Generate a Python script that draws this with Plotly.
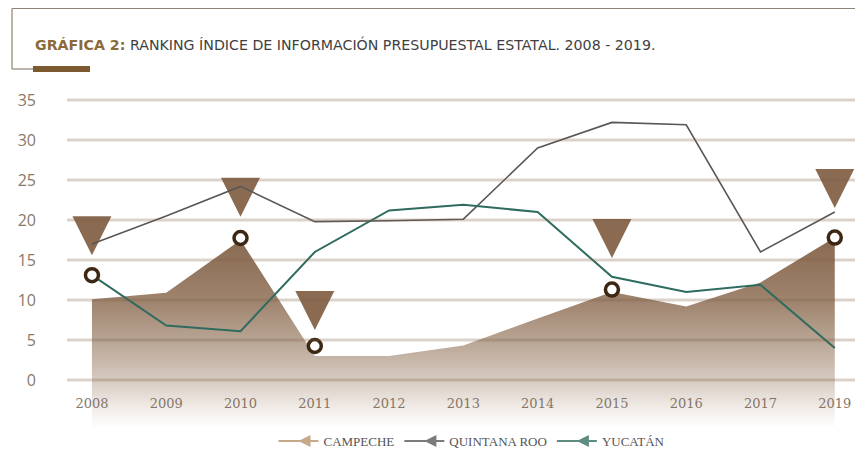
import plotly.graph_objects as go

# ---------------- data ----------------
YEARS = ["2008", "2009", "2010", "2011", "2012", "2013", "2014", "2015", "2016", "2017", "2019"]
CAMPECHE = [10.1, 10.9, 17.5, 3.0, 3.0, 4.3, 7.7, 11.0, 9.2, 12.2, 17.8]
QUINTANA_ROO = [17.0, 20.5, 24.2, 19.8, 19.9, 20.1, 29.0, 32.2, 31.9, 16.0, 21.0]
YUCATAN = [13.1, 6.8, 6.1, 16.0, 21.2, 21.9, 21.0, 12.9, 11.0, 11.9, 4.0]

CIRCLE_YEARS = ["2008", "2010", "2011", "2015", "2019"]
CIRCLE_VALUES = [13.1, 17.75, 4.25, 11.3, 17.8]
ARROW_YEARS = ["2008", "2010", "2011", "2015", "2019"]
ARROW_VALUES = [15.6, 20.4, 6.25, 15.25, 21.5]

Y_TICKS = [0, 5, 10, 15, 20, 25, 30, 35]
SERIES_NAMES = ["CAMPECHE", "QUINTANA ROO", "YUCATÁN"]

TITLE_BOLD = "GRÁFICA 2:"
TITLE_REST = " RANKING ÍNDICE DE INFORMACIÓN PRESUPUESTAL ESTATAL. 2008 - 2019."

# ---------------- styling ----------------
PAGE_OFF = 8                    # default page body margin
W, H = 863 - PAGE_OFF, 458 - PAGE_OFF
ML, MR, MT, MB = 67 - PAGE_OFF, 0, 92 - PAGE_OFF, 30
Y_MIN, Y_MAX = -6, 36          # bottom of the fade below the axis, top of plot
X_MIN, X_MAX = -0.336, 10.38

idx = {y: i for i, y in enumerate(YEARS)}
xs = list(range(len(YEARS)))

plot_w = W - ML - MR
plot_h = H - MT - MB


def px_x(p):  # page pixel -> paper x
    return (p - PAGE_OFF - ML) / plot_w


def px_y(q):  # page pixel -> paper y
    return (H - MB - (q - PAGE_OFF)) / plot_h


fig = go.Figure()

# Campeche area with vertical gradient fading below the axis
area_x = xs + xs[::-1]
area_y = CAMPECHE + [Y_MIN] * len(xs)
top = max(CAMPECHE)


def pos(v):
    return (v - Y_MIN) / (top - Y_MIN)


fig.add_trace(go.Scatter(
    x=area_x, y=area_y, fill="toself", mode="lines",
    line=dict(width=0, color="rgba(0,0,0,0)"),
    fillgradient=dict(
        type="vertical", start=Y_MIN, stop=top,
        colorscale=[
            [0.0, "rgba(255,255,255,1)"],
            [pos(-3), "rgb(238,232,227)"],
            [pos(0), "rgb(214,202,192)"],
            [pos(5), "rgb(184,164,147)"],
            [pos(10), "rgb(158,131,109)"],
            [1.0, "rgb(137,105,80)"],
        ],
    ),
    showlegend=False, hoverinfo="skip",
))

# arrow markers (below the lines)
fig.add_trace(go.Scatter(
    x=[idx[y] for y in ARROW_YEARS], y=ARROW_VALUES, mode="markers",
    marker=dict(symbol="arrow-down", size=39, color="#8a6b52", line=dict(width=0)),
    showlegend=False, hoverinfo="skip",
))

# Quintana Roo line
fig.add_trace(go.Scatter(
    x=xs, y=QUINTANA_ROO, mode="lines",
    line=dict(color="#5a5754", width=1.6),
    showlegend=False,
))

# Yucatán line
fig.add_trace(go.Scatter(
    x=xs, y=YUCATAN, mode="lines",
    line=dict(color="#2f6b5f", width=2),
    showlegend=False,
))

# circle markers
fig.add_trace(go.Scatter(
    x=[idx[y] for y in CIRCLE_YEARS], y=CIRCLE_VALUES, mode="markers",
    marker=dict(symbol="circle", size=13, color="white",
                line=dict(width=3.5, color="#3b2713")),
    showlegend=False, hoverinfo="skip",
))

# legend proxies
legend_colors = ["#c7a88b", "#7b7b7b", "#5e8c80"]
for name, col in zip(SERIES_NAMES, legend_colors):
    fig.add_trace(go.Scatter(
        x=[None], y=[None], mode="lines+markers", name=name,
        line=dict(color=col, width=2),
        marker=dict(symbol="arrow-left", size=12, color=col),
    ))

shapes = []
# gridlines drawn above the area
for t in Y_TICKS:
    shapes.append(dict(type="line", xref="paper", yref="y", x0=0, x1=1, y0=t, y1=t,
                       line=dict(color="rgba(125,95,70,0.28)", width=3), layer="above"))
# frame decoration
frame_col = "#8d8377"
shapes += [
    dict(type="line", xref="paper", yref="paper", x0=px_x(12), x1=1, y0=px_y(8.5), y1=px_y(8.5),
         line=dict(color=frame_col, width=1.2)),
    dict(type="line", xref="paper", yref="paper", x0=px_x(12), x1=px_x(12), y0=px_y(8.5), y1=px_y(69),
         line=dict(color=frame_col, width=1.2)),
    dict(type="line", xref="paper", yref="paper", x0=px_x(12), x1=px_x(34), y0=px_y(69), y1=px_y(69),
         line=dict(color=frame_col, width=1.2)),
    dict(type="rect", xref="paper", yref="paper", x0=px_x(33), x1=px_x(90), y0=px_y(72), y1=px_y(66),
         fillcolor="#7a5a2e", line=dict(width=0)),
]

fig.update_layout(
    width=W, height=H,
    margin=dict(l=ML, r=MR, t=MT, b=MB),
    paper_bgcolor="white", plot_bgcolor="white",
    title=dict(
        text=f"<b><span style='color:#8b6a3a'>{TITLE_BOLD}</span></b>{TITLE_REST}",
        x=(35 - PAGE_OFF) / W, xanchor="left", xref="container",
        y=1 - (45 - PAGE_OFF) / H, yanchor="middle", yref="container",
        font=dict(family="DejaVu Sans", size=14.2, color="#3f3f3f"),
    ),
    xaxis=dict(
        range=[X_MIN, X_MAX], tickmode="array", tickvals=xs, ticktext=YEARS,
        showgrid=False, zeroline=False, showline=False, ticks="",
        anchor="free", position=(0 - Y_MIN) / (Y_MAX - Y_MIN),
        ticklabelstandoff=14,
        tickfont=dict(family="DejaVu Serif", size=13, color="#857566"),
    ),
    yaxis=dict(
        range=[Y_MIN, Y_MAX], tickmode="array", tickvals=Y_TICKS,
        showgrid=False, zeroline=False, showline=False, ticks="",
        ticklabelstandoff=30,
        tickfont=dict(family="Open Sans", size=16, color="#8a7868"),
    ),
    legend=dict(
        orientation="h", xanchor="center", x=px_x(472), yanchor="middle", y=px_y(441),
        font=dict(family="Liberation Serif", size=13, color="#555555"),
        bgcolor="rgba(0,0,0,0)", itemwidth=40,
    ),
    shapes=shapes,
)

fig.write_html("out.html")
